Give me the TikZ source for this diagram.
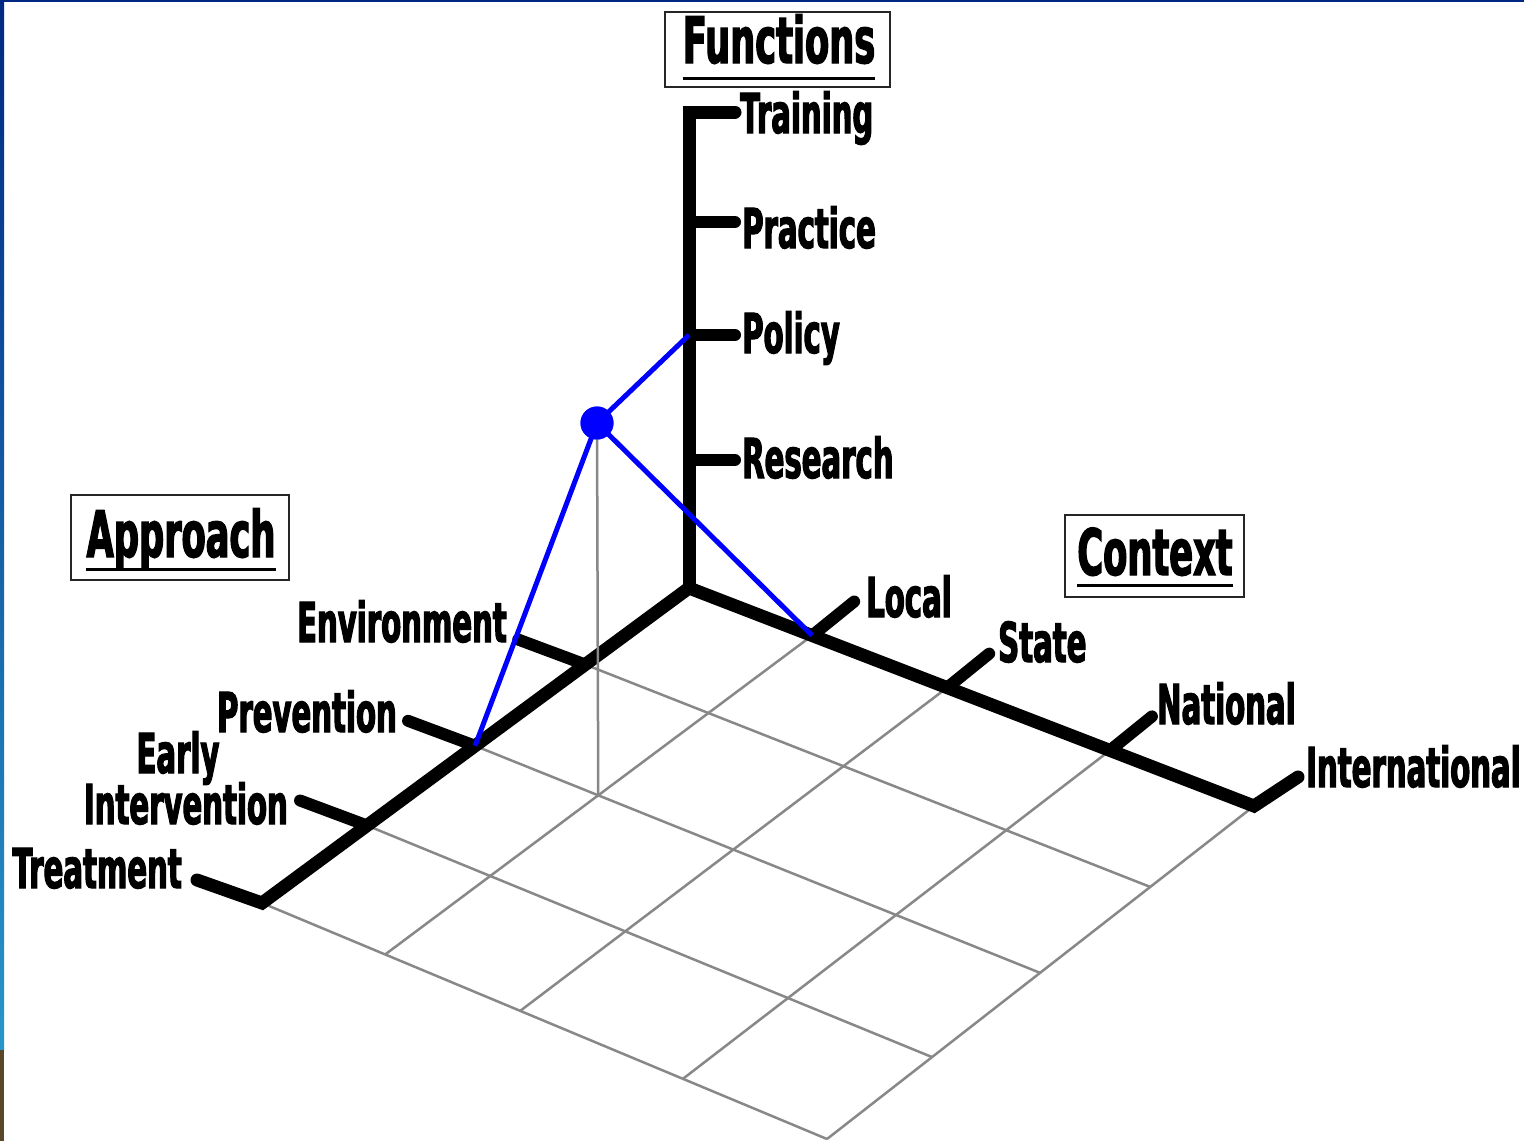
\documentclass[tikz,border=0pt]{standalone}
\usepackage{fontspec}
\usetikzlibrary{calc}
\newfontfamily\labfont[FakeStretch=0.53,FakeBold=2]{DejaVu Sans}
\newfontfamily\ttlfont[FakeStretch=0.55,FakeBold=2]{DejaVu Sans}
\definecolor{pureblue}{RGB}{0,0,255}
\definecolor{gridgray}{RGB}{136,136,136}
\definecolor{navy}{RGB}{0,40,130}
\definecolor{edgecyan}{RGB}{40,150,200}
\definecolor{edgebrown}{RGB}{90,70,40}
\begin{document}
\begin{tikzpicture}[x=1pt,y=-1pt,
  axisln/.style={line width=13pt, line join=miter, line cap=round},
  tickln/.style={line width=12pt, line cap=round},
  gridln/.style={draw=gridgray, line width=2.5pt},
  blueln/.style={draw=pureblue, line width=5pt},
  lab/.style={inner sep=0pt, font=\labfont\bfseries\fontsize{55}{60}\selectfont},
  ttl/.style={inner sep=0pt, font=\ttlfont\bfseries\fontsize{64}{70}\selectfont},
  tframe/.style={draw=black!85, line width=2pt, inner sep=0pt},
  uline/.style={line width=3pt}
]
\useasboundingbox (0,0) rectangle (1524,1141);
\fill[white] (0,0) rectangle (1524,1141);
% slide edges
\shade[top color=navy, bottom color=edgecyan] (0,0) rectangle (4,1050);
\fill[edgebrown] (0,1050) rectangle (4,1141);
\fill[navy] (0,0) rectangle (1524,2);

% key points
\coordinate (O) at (689,588);
\coordinate (C4) at (1254,806);
\coordinate (A4) at (262,903);
\coordinate (F) at (827,1139);
\coordinate (Vt) at (689,112);
\coordinate (CL) at ($(O)!0.218!(C4)$);
\coordinate (CS) at ($(O)!0.457!(C4)$);
\coordinate (CN) at ($(O)!0.745!(C4)$);
\coordinate (AE) at ($(O)!0.243!(A4)$);
\coordinate (AP) at ($(O)!0.501!(A4)$);
\coordinate (AI) at ($(O)!0.754!(A4)$);
\coordinate (VP) at (689,222);
\coordinate (VPo) at (689,335);
\coordinate (VR) at (689,460);

% floor grid (slight perspective)
\foreach \s in {0.218,0.457,0.745,1}{
  \draw[gridln] ($(O)!\s!(C4)$) -- ($(A4)!\s!(F)$);
}
\foreach \t in {0.243,0.501,0.754,1}{
  \draw[gridln] ($(O)!\t!(A4)$) -- ($(C4)!\t!(F)$);
}

% axes
\draw[axisln] ($(A4)+(-65,-23)$) -- (A4) -- (O) -- (C4) -- ($(C4)+(44,-29)$);
\draw[axisln] (735,112) -- (Vt) -- (O);

% ticks
\foreach \v in {VP,VPo,VR}{
  \draw[tickln] (\v) -- ++(46,0);
}
\foreach \c in {CL,CS,CN}{
  \draw[tickln] (\c) -- ++(42,-34);
}
\foreach \a in {AE,AP,AI}{
  \draw[tickln] (\a) -- ++(-67,-25);
}

% point and projections
\node[circle, fill=pureblue, minimum size=33pt, inner sep=0pt] (P) at (597,423) {};
\coordinate (CLf) at ($(A4)!0.218!(F)$);
\coordinate (G) at ($(CL)!0.501!(CLf)$);
\draw[gridln] (P.center) -- (G);
\draw[blueln] (P.center) -- (VPo);
\draw[blueln] (P.center) -- (CL);
\draw[blueln] (P.center) -- (AP);
\node[circle, fill=pureblue, minimum size=33pt, inner sep=0pt] at (P) {};

% function labels
\node[lab, anchor=base west] (lTraining) at (740,133) {Training};
\node[lab, anchor=base west] (lPractice) at (742,248) {Practice};
\node[lab, anchor=base west] (lPolicy) at (742,353) {Policy};
\node[lab, anchor=base west] (lResearch) at (742,478) {Research};

% context labels
\node[lab, anchor=base west] (lLocal) at (866,617) {Local};
\node[lab, anchor=base west] (lState) at (998,662) {State};
\node[lab, anchor=base west] (lNational) at (1157,724) {National};
\node[lab, anchor=base west] (lIntl) at (1306,787) {International};

% approach labels
\node[lab, anchor=base east] (lEnv) at (507,642) {Environment};
\node[lab, anchor=base east] (lPrev) at (397,732) {Prevention};
\node[lab, anchor=base] (lEarly) at (178,773) {Early};
\node[lab, anchor=base east] (lInterv) at (288,824) {Intervention};
\node[lab, anchor=base east] (lTreat) at (182,888) {Treatment};

% titles
\node[tframe, minimum width=225pt, minimum height=75pt] (bF) at (777.5,49.5) {};
\node[ttl, anchor=base] (tF) at (779,63) {Functions};
\draw[uline] ($(tF.base west)+(0,15)$) -- ($(tF.base east)+(0,15)$);

\node[tframe, minimum width=218pt, minimum height=85pt] (bA) at (180,537) {};
\node[ttl, anchor=base] (tA) at (181,557) {Approach};
\draw[uline] ($(tA.base west)+(0,12)$) -- ($(tA.base east)+(0,12)$);

\node[tframe, minimum width=179pt, minimum height=82pt] (bC) at (1154.5,556) {};
\node[ttl, anchor=base] (tC) at (1155,575) {Context};
\draw[uline] ($(tC.base west)+(0,10)$) -- ($(tC.base east)+(0,10)$);
\end{tikzpicture}
\end{document}
